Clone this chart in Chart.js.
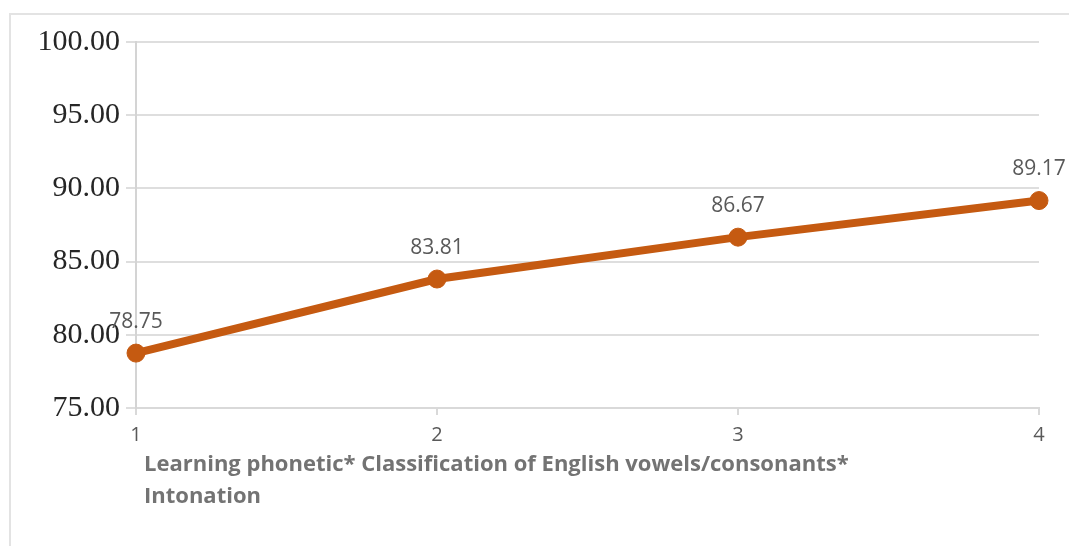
<!DOCTYPE html>
<html>
<head>
<meta charset="utf-8">
<script src="https://cdn.jsdelivr.net/npm/chart.js@4/dist/chart.umd.min.js"></script>
<style>
  html, body { margin: 0; padding: 0; background: #fff; }
  #wrap { width: 1069px; height: 546px; position: relative; }
</style>
</head>
<body>
<div id="wrap"><canvas id="chart"></canvas></div>
<script>
const categories = ["1", "2", "3", "4"];
const scores = [78.75, 83.81, 86.67, 89.17];
const axisTitleLines = [
  "Learning phonetic* Classification of English vowels/consonants*",
  "Intonation",
];
const lineColor = "#C55A11";

// frame around the whole picture
const framePlugin = {
  id: "frame",
  beforeDraw(chart) {
    const { ctx, width, height } = chart;
    ctx.save();
    ctx.strokeStyle = "#e3e3e3";
    ctx.lineWidth = 2;
    ctx.strokeRect(10, 14, width + 10, height + 10);
    ctx.restore();
  },
};

// value labels above each point
const valueLabels = {
  id: "valueLabels",
  afterDatasetsDraw(chart) {
    const { ctx } = chart;
    const meta = chart.getDatasetMeta(0);
    ctx.save();
    ctx.font = "21px 'Open Sans'";
    ctx.fillStyle = "#595959";
    ctx.textAlign = "center";
    ctx.textBaseline = "bottom";
    meta.data.forEach((pt, i) => {
      ctx.fillText(scores[i].toFixed(2), pt.x, pt.y - 21);
    });
    ctx.restore();
  },
};

// axis title, left aligned under the axis
const axisTitle = {
  id: "axisTitle",
  afterDraw(chart) {
    const { ctx, chartArea } = chart;
    ctx.save();
    ctx.font = "bold 22px 'Open Sans'";
    ctx.fillStyle = "#737373";
    ctx.textAlign = "left";
    ctx.textBaseline = "middle";
    axisTitleLines.forEach((t, i) => {
      ctx.fillText(t, chartArea.left + 8, chartArea.bottom + 57 + i * 32);
    });
    ctx.restore();
  },
};

new Chart(document.getElementById("chart"), {
  type: "line",
  data: {
    labels: categories,
    datasets: [
      {
        data: scores,
        borderColor: lineColor,
        backgroundColor: lineColor,
        borderWidth: 8,
        pointRadius: 9,
        pointHoverRadius: 9,
        pointBackgroundColor: lineColor,
        pointBorderColor: lineColor,
        pointBorderWidth: 1,
        tension: 0,
        fill: false,
      },
    ],
  },
  options: {
    responsive: true,
    maintainAspectRatio: false,
    animation: false,
    layout: { padding: { left: 0, top: 42, right: 30, bottom: 0 } },
    plugins: {
      legend: { display: false },
      tooltip: { enabled: false },
    },
    scales: {
      x: {
        offset: false,
        afterFit: (scale) => { scale.height = 546 - 408; },
        grid: {
          drawOnChartArea: false,
          drawTicks: true,
          tickLength: 7,
          color: "#d9d9d9",
          lineWidth: 2,
        },
        border: { color: "#d9d9d9", width: 2 },
        ticks: {
          color: "#595959",
          font: { family: "'Open Sans'", size: 20 },
          padding: 8,
          maxRotation: 0,
        },
      },
      y: {
        min: 75,
        max: 100,
        afterFit: (scale) => { scale.width = 136; },
        grid: {
          color: "#dedede",
          lineWidth: 2,
          tickLength: 10,
        },
        border: { color: "#d4d4d4", width: 2 },
        ticks: {
          stepSize: 5,
          color: "#262626",
          padding: 6,
          font: { family: "'Liberation Serif'", size: 30 },
          callback: (v) => Number(v).toFixed(2),
        },
      },
    },
  },
  plugins: [framePlugin, valueLabels, axisTitle],
});
</script>
</body>
</html>
